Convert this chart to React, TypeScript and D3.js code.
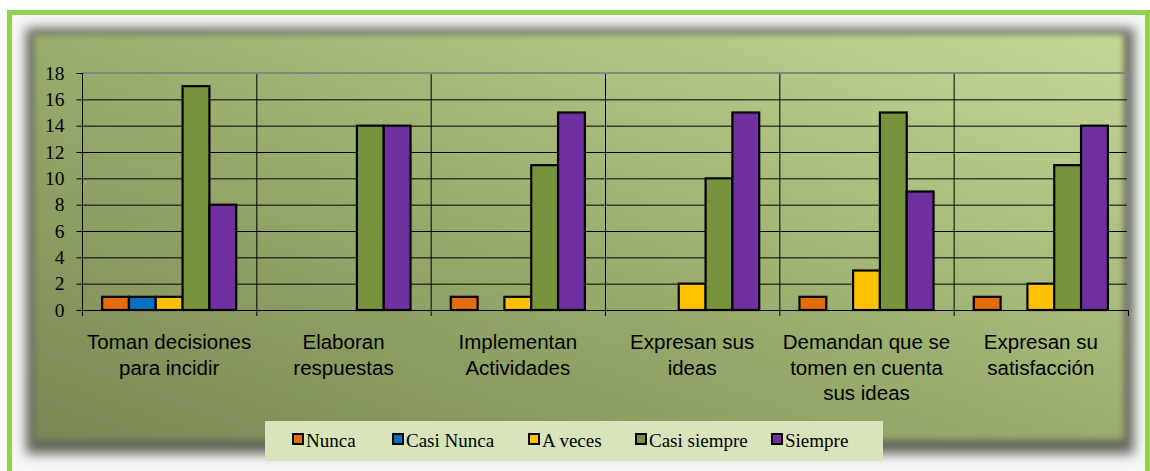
import React, { useEffect, useRef } from 'react';
import * as d3 from 'd3';

const categories = [
  ['Toman decisiones', 'para incidir'],
  ['Elaboran', 'respuestas'],
  ['Implementan', 'Actividades'],
  ['Expresan sus', 'ideas'],
  ['Demandan que se', 'tomen en cuenta', 'sus ideas'],
  ['Expresan su', 'satisfacción'],
];

const seriesNames = ['Nunca', 'Casi Nunca', 'A veces', 'Casi siempre', 'Siempre'];
const seriesColors = ['#E36C09', '#0070C0', '#FFC000', '#77933C', '#7030A0'];

const nunca = [1, 0, 1, 0, 1, 1];
const casiNunca = [1, 0, 0, 0, 0, 0];
const aVeces = [1, 0, 1, 2, 3, 2];
const casiSiempre = [17, 14, 11, 10, 15, 11];
const siempre = [8, 14, 15, 15, 9, 14];

const yTicks = [0, 2, 4, 6, 8, 10, 12, 14, 16, 18];

const App: React.FC = () => {
  const ref = useRef<SVGSVGElement>(null);

  useEffect(() => {
    if (!ref.current) return;
    const svg = d3.select(ref.current);
    svg.selectAll('*').remove();

    const W = 1150;
    const H = 471;
    const values = [nunca, casiNunca, aVeces, casiSiempre, siempre];

    const defs = svg.append('defs');
    const grad = defs.append('linearGradient')
      .attr('id', 'panelGrad')
      .attr('x1', '0%').attr('y1', '100%')
      .attr('x2', '100%').attr('y2', '0%');
    grad.append('stop').attr('offset', '0%').attr('stop-color', '#7a8755');
    grad.append('stop').attr('offset', '50%').attr('stop-color', '#9aae6e');
    grad.append('stop').attr('offset', '100%').attr('stop-color', '#c4d997');

    defs.append('filter').attr('id', 'blurShadow')
      .attr('x', '-5%').attr('y', '-5%').attr('width', '110%').attr('height', '110%')
      .append('feGaussianBlur').attr('stdDeviation', 6);
    defs.append('filter').attr('id', 'blurSoft')
      .attr('x', '-5%').attr('y', '-5%').attr('width', '110%').attr('height', '110%')
      .append('feGaussianBlur').attr('stdDeviation', 3);

    // page background + green frame
    svg.append('rect').attr('width', W).attr('height', H).attr('fill', '#ffffff');
    svg.append('rect')
      .attr('x', 9.5).attr('y', 12.5).attr('width', 1138).attr('height', 480)
      .attr('fill', '#f7f7f7').attr('stroke', '#92D050').attr('stroke-width', 5);

    // chart panel with soft shadow
    svg.append('rect')
      .attr('x', 26).attr('y', 28).attr('width', 1108).attr('height', 426)
      .attr('fill', '#62665a').attr('filter', 'url(#blurShadow)');
    svg.append('rect')
      .attr('x', 34).attr('y', 34).attr('width', 1090).attr('height', 406)
      .attr('fill', 'url(#panelGrad)').attr('filter', 'url(#blurSoft)');

    const x0 = 82, x1 = 1128, yTop = 73, yBot = 310;

    const x = d3.scaleBand<number>()
      .domain(d3.range(categories.length))
      .range([x0, x1])
      .paddingInner(0).paddingOuter(0);

    const xInner = d3.scaleBand<number>()
      .domain(d3.range(seriesNames.length))
      .range([0, x.bandwidth()])
      .paddingOuter(0.75).paddingInner(0);

    const y = d3.scaleLinear().domain([0, 18]).range([yBot, yTop]);

    const g = svg.append('g');

    // horizontal grid
    g.selectAll('.grid')
      .data(yTicks.filter(t => t > 0 && t < 18))
      .enter().append('line')
      .attr('x1', x0).attr('x2', x1)
      .attr('y1', d => y(d) + 0.5).attr('y2', d => y(d) + 0.5)
      .attr('stroke', '#000').attr('stroke-width', 1);

    // vertical separators
    g.selectAll('.sep')
      .data(d3.range(1, categories.length))
      .enter().append('line')
      .attr('x1', d => (x(d) as number) + 0.5).attr('x2', d => (x(d) as number) + 0.5)
      .attr('y1', yTop).attr('y2', yBot + 6)
      .attr('stroke', '#000').attr('stroke-width', 1);

    // plot border (top + right)
    g.append('path')
      .attr('d', `M${x0},${yTop}H${x1}V${yBot}`)
      .attr('fill', 'none').attr('stroke', '#858585').attr('stroke-width', 2);

    // bars
    values.forEach((vals, si) => {
      g.selectAll(`.bar-${si}`)
        .data(vals.map((v, ci) => ({ v, ci })).filter(d => d.v > 0))
        .enter().append('rect')
        .attr('x', d => (x(d.ci) as number) + (xInner(si) as number))
        .attr('width', xInner.bandwidth())
        .attr('y', d => y(d.v))
        .attr('height', d => yBot - y(d.v))
        .attr('fill', seriesColors[si])
        .attr('stroke', '#000').attr('stroke-width', 2.2);
    });

    // y axis
    const yAxis = g.append('g')
      .attr('transform', `translate(${x0 + 0.5},0)`)
      .call(d3.axisLeft(y).tickValues(yTicks).tickSize(6).tickPadding(12).tickFormat(d3.format('d')));
    yAxis.select('.domain').attr('stroke', '#000').attr('d', `M-0,${yTop}V${yBot + 6}`);
    yAxis.selectAll('.tick line').attr('stroke', '#000');
    yAxis.selectAll('text')
      .attr('fill', '#000')
      .style('font-family', '"Liberation Serif", "Times New Roman", serif')
      .style('font-size', '19.5px');

    // x axis line + ticks
    g.append('line')
      .attr('x1', x0).attr('x2', x1 + 0.5)
      .attr('y1', yBot + 0.5).attr('y2', yBot + 0.5)
      .attr('stroke', '#000').attr('stroke-width', 1);
    g.append('line')
      .attr('x1', x1 + 0.5).attr('x2', x1 + 0.5)
      .attr('y1', yBot).attr('y2', yBot + 6)
      .attr('stroke', '#000');

    // category labels
    categories.forEach((lines, ci) => {
      const t = g.append('text')
        .attr('x', (x(ci) as number) + x.bandwidth() / 2)
        .attr('y', 349)
        .attr('text-anchor', 'middle')
        .style('font-family', '"Liberation Sans", Arial, sans-serif')
        .style('font-size', '20.5px')
        .attr('fill', '#000');
      lines.forEach((ln, li) => {
        t.append('tspan')
          .attr('x', (x(ci) as number) + x.bandwidth() / 2)
          .attr('dy', li === 0 ? 0 : 25.5)
          .text(ln);
      });
    });

    // legend
    const lg = svg.append('g');
    lg.append('rect')
      .attr('x', 265).attr('y', 421).attr('width', 618).attr('height', 40)
      .attr('fill', '#d8e4bc');
    const legendX = [293, 393, 529, 636, 772];
    seriesNames.forEach((name, i) => {
      lg.append('rect')
        .attr('x', legendX[i]).attr('y', 434).attr('width', 10).attr('height', 10)
        .attr('fill', seriesColors[i]).attr('stroke', '#000').attr('stroke-width', 2);
      lg.append('text')
        .attr('x', legendX[i] + 13).attr('y', 447)
        .style('font-family', '"Liberation Serif", "Times New Roman", serif')
        .style('font-size', '19px')
        .attr('fill', '#000')
        .text(name);
    });
  }, []);

  return (
    <svg ref={ref} width={1150} height={471} style={{ position: 'absolute', left: 0, top: 0 }} />
  );
};

export default App;
